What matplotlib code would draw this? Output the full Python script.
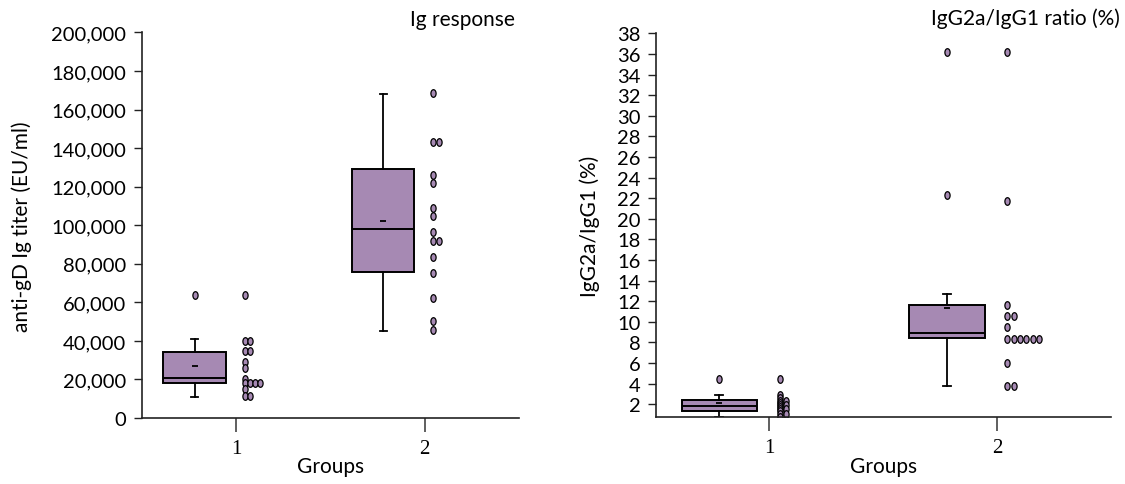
import numpy as np
import matplotlib
matplotlib.use("Agg")
import matplotlib.pyplot as plt
from matplotlib.path import Path
from matplotlib.ticker import FuncFormatter

# ---- data ----
GROUPS = [1, 2]

# Ig response (EU/ml), individual animals
IG_G1 = [63800, 40100, 40100, 34700, 34700, 29200, 25800, 20300,
         18200, 18200, 18200, 18200, 15000, 11600, 11600]
IG_G2 = [168400, 143000, 143000, 126200, 121700, 108900, 104900, 96300,
         91600, 91600, 83300, 75000, 62200, 50100, 45800]
# box summaries: q1, median, q3, mean, whisker low, whisker high
IG_Q1 = [18150, 75900]
IG_MED = [20900, 98000]
IG_Q3 = [34200, 129100]
IG_MEAN = [27000, 102000]
IG_WLO = [11000, 45300]
IG_WHI = [41000, 168000]
IG_FLIERS = [[63800], []]

# IgG2a/IgG1 ratio (%)
RATIO_G1 = [4.4, 2.9, 2.6, 2.3, 2.3, 2.1, 1.9, 1.9, 1.7, 1.5, 1.5, 1.3, 1.0, 1.0, 0.8]
RATIO_G2 = [36.2, 21.7, 11.6, 10.6, 10.6, 9.5, 8.3, 8.3, 8.3, 8.3, 8.3, 8.3, 6.0, 3.8, 3.8]
R_Q1 = [1.35, 8.41]
R_MED = [1.83, 8.96]
R_Q3 = [2.39, 11.61]
R_MEAN = [2.1, 11.35]
R_WLO = [0.8, 3.78]
R_WHI = [2.94, 12.68]
R_FLIERS = [[4.45], [36.2, 22.3]]

PURPLE = "#a689b3"
AXC = "#222222"
FONT = ["Lato", "DejaVu Sans"]
SERIF = ["Liberation Serif", "DejaVu Serif"]

plt.rcParams.update({"font.family": FONT, "font.size": 14.5,
                     "axes.spines.top": False, "axes.spines.right": False})

# slightly tall ellipse marker, like the original dots
_c = Path.unit_circle()
DOT = Path(_c.vertices * np.array([0.68, 1.0]), _c.codes)


def swarm_x(vals, x0, dx):
    xs, seen = [], {}
    for v in vals:
        k = seen.get(v, 0)
        xs.append(x0 + k * dx)
        seen[v] = k + 1
    return xs


def panel(ax, points, q1, med, q3, mean, wlo, whi, fliers):
    stats = []
    for i in range(len(GROUPS)):
        stats.append(dict(q1=q1[i], med=med[i], q3=q3[i], whislo=wlo[i],
                          whishi=whi[i], fliers=fliers[i], mean=mean[i]))
    pos = [g - 0.22 for g in GROUPS]
    ax.bxp(stats, positions=pos, widths=0.33, patch_artist=True, showmeans=False,
           capwidths=0.035,
           boxprops=dict(facecolor=PURPLE, edgecolor="black", lw=1.4),
           medianprops=dict(color="black", lw=1.4),
           whiskerprops=dict(color="black", lw=1.3),
           capprops=dict(color="black", lw=1.3),
           flierprops=dict(marker=DOT, markersize=5.5, markerfacecolor=PURPLE,
                           markeredgecolor="black", markeredgewidth=0.9))
    ax.plot(pos, mean, ls="none", marker="_", markersize=5, mew=1.3, color="black")
    for g, vals in zip(GROUPS, points):
        ax.plot(swarm_x(vals, g + 0.045, 0.028), vals, ls="none", marker=DOT,
                markersize=5.5, markerfacecolor=PURPLE, markeredgecolor="black",
                markeredgewidth=0.9)
    ax.set_xlim(0.5, 2.5)
    ax.set_xticks(GROUPS)
    ax.set_xticklabels([str(g) for g in GROUPS], family=SERIF, fontsize=15)
    ax.tick_params(axis="x", length=10, width=1.2, color="#444444", pad=5)
    ax.tick_params(axis="y", length=6, width=1, color=AXC, pad=5, labelsize=14.5)
    for s in ("left", "bottom"):
        ax.spines[s].set_color(AXC)
        ax.spines[s].set_linewidth(1.2)
    ax.set_xlabel("Groups", fontsize=15, labelpad=-1)


fig = plt.figure(figsize=(11.25, 4.85), dpi=100)
ax1 = fig.add_axes([0.126, 0.136, 0.3354, 0.795])
ax2 = fig.add_axes([0.5828, 0.138, 0.4047, 0.791])

panel(ax1, [IG_G1, IG_G2], IG_Q1, IG_MED, IG_Q3, IG_MEAN, IG_WLO, IG_WHI, IG_FLIERS)
ax1.set_ylim(0, 200000)
ax1.set_yticks(np.arange(0, 200001, 20000))
ax1.yaxis.set_major_formatter(FuncFormatter(lambda v, p: f"{int(v):,}"))
ax1.set_ylabel("anti-gD Ig titer (EU/ml)", fontsize=15, labelpad=14)
ax1.text(0.99, 1.01, "Ig response", transform=ax1.transAxes, ha="right", va="bottom",
         fontsize=15)

panel(ax2, [RATIO_G1, RATIO_G2], R_Q1, R_MED, R_Q3, R_MEAN, R_WLO, R_WHI, R_FLIERS)
ax2.set_ylim(0.75, 38)
ax2.set_yticks(np.arange(2, 39, 2))
ax2.set_ylabel("IgG2a/IgG1 (%)", fontsize=15, labelpad=12)
ax2.text(1.02, 1.015, "IgG2a/IgG1 ratio (%)", transform=ax2.transAxes, ha="right",
         va="bottom", fontsize=15)

fig.savefig("out.png", dpi=100)
